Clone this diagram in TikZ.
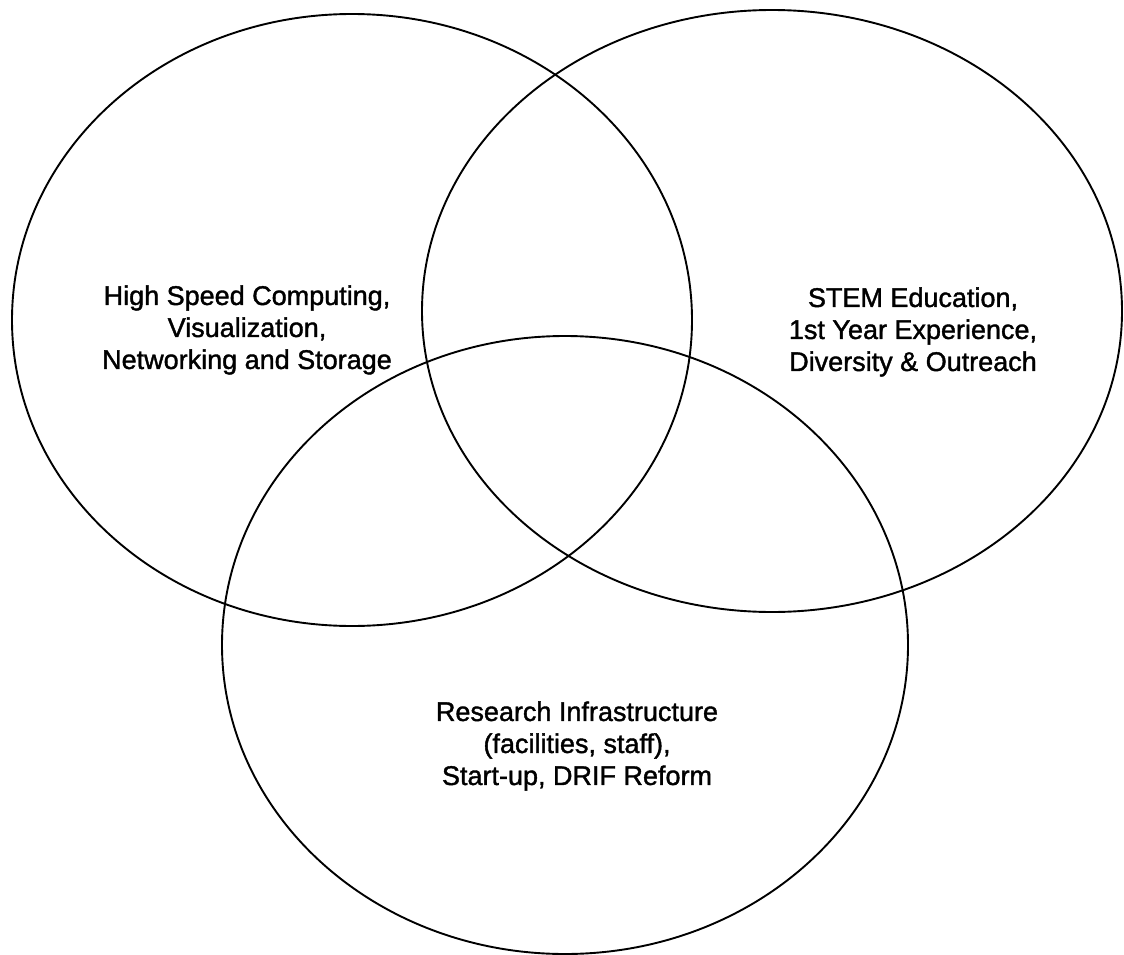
\documentclass[tikz,border=0pt]{standalone}
\usepackage{fontspec}
\setmainfont{Liberation Sans}
\newfontfamily\labfont[FakeBold=1.4]{Liberation Sans}
\begin{document}
\begin{tikzpicture}[x=1pt,y=-1pt,
  ring/.style={draw=black,line width=1.9pt},
  label/.style={align=center,font=\labfont\fontsize{27}{32}\selectfont,inner sep=0pt}]
\useasboundingbox (0,0) rectangle (1124,955);
\draw[ring] (352,320) ellipse [x radius=340, y radius=306];
\draw[ring] (772,311) ellipse [x radius=350, y radius=301];
\draw[ring] (565,645) ellipse [x radius=343, y radius=309];
\node[label] (hpc) at (247,330) {High Speed Computing,\\Visualization,\\Networking and Storage};
\node[label] (stem) at (913,332) {STEM Education,\\1st Year Experience,\\Diversity \& Outreach};
\node[label] (ri) at (577,746) {Research Infrastructure\\(facilities, staff),\\Start-up, DRIF Reform};
\end{tikzpicture}
\end{document}
